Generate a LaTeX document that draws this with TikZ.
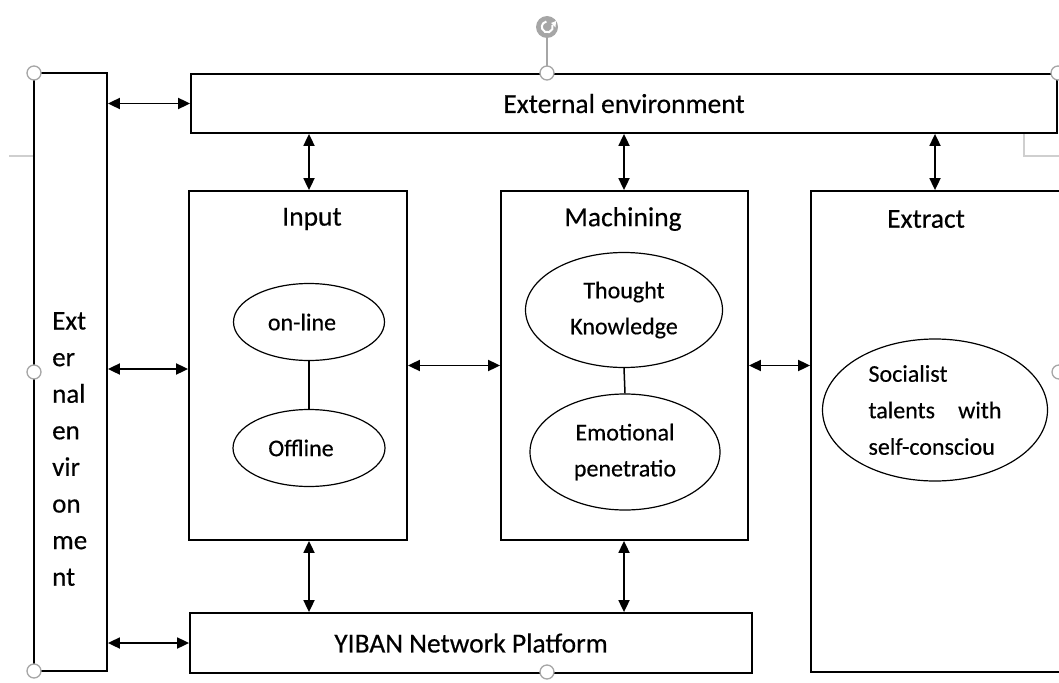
\documentclass[tikz,border=0pt]{standalone}
\usepackage{fontspec}
\setmainfont{Carlito}[FakeBold=0.4]
\usetikzlibrary{arrows.meta,shapes.geometric}
\definecolor{handlegray}{HTML}{A6A6A6}
\definecolor{guidegray}{HTML}{CFCFCF}
\tikzset{
  box/.style={draw,line width=1.8pt,rectangle,inner sep=0pt},
  bubble/.style={draw,line width=1.2pt,ellipse,inner sep=0pt,align=center,
    font=\fontsize{24}{36}\selectfont},
  title/.style={font=\fontsize{27.5}{30}\selectfont,inner sep=0pt},
  link/.style={line width=1.8pt,{Triangle[length=12pt,width=11pt]}-{Triangle[length=12pt,width=11pt]}},
  handle/.style={draw=handlegray,fill=white,line width=1.3pt}
}
\begin{document}
\begin{tikzpicture}[x=1pt,y=-1pt]
  \useasboundingbox (0,0) rectangle (1059,682);
  % faint guide lines of the page
  \draw[guidegray,line width=1.2pt] (9,156)--(33,156);
  \draw[guidegray,line width=1.2pt] (1024,133)--(1024,156)--(1059,156);

  % frames
  \node[box,minimum width=73pt,minimum height=598pt] (lbox) at (70.5,372) {};
  \node[box,minimum width=866pt,minimum height=59pt,title] (topbox) at (624,103.5) {External environment};
  \node[box,minimum width=218pt,minimum height=349pt] (input) at (298,365.5) {};
  \node[box,minimum width=247pt,minimum height=349pt] (mach) at (624.5,365.5) {};
  \node[box,minimum width=249pt,minimum height=481pt] (extract) at (935.5,431.5) {};
  \node[box,minimum width=562pt,minimum height=60pt,title] (yiban) at (471,643) {YIBAN Network Platform};

  \node[anchor=north west,inner sep=0pt,align=left,font=\fontsize{27}{36.6}\selectfont] (lboxtext) at (52,312)
    {Ext\\er\\nal\\en\\vir\\on\\me\\nt};
  \node[title] (inputtitle) at (312,219) {Input};
  \node[title] (machtitle) at (623,219) {Machining};
  \node[title] (extracttitle) at (926,219) {Extract};

  % ellipses
  \node[bubble,minimum width=151pt,minimum height=77pt] (online) at (309,322) {on-line\hspace*{14pt}};
  \node[bubble,minimum width=152pt,minimum height=77pt] (offline) at (309,448) {Offline\hspace*{16pt}};
  \node[bubble,minimum width=197pt,minimum height=115pt] (thought) at (624,310) {Thought\\Knowledge};
  \node[bubble,minimum width=190pt,minimum height=116pt] (emotional) at (625,452) {Emotional\\penetratio};
  \node[bubble,minimum width=225pt,minimum height=142pt] (social) at (935,410)
    {\parbox{133pt}{\fontsize{24}{36.5}\selectfont Socialist\\talents\hfill with\\self-consciou}};
  \draw[line width=1.5pt] (online.south) -- (offline.north);
  \draw[line width=1.5pt] (thought.south) -- (emotional.north);

  % arrows
  \draw[link] (lbox.east |- topbox.west) -- (topbox.west);
  \draw[link] ([yshift=-3.5pt]lbox.east |- input.west) -- ([yshift=-3.5pt]input.west);
  \draw[link] (lbox.east |- yiban.west) -- (yiban.west);
  \draw[link] (topbox.south -| online) -- (input.north -| online);
  \draw[link] (topbox.south -| thought) -- (mach.north -| thought);
  \draw[link] (topbox.south -| social) -- (extract.north -| social);
  \draw[link] (input.east) -- (mach.west);
  \draw[link] (mach.east) -- (extract.west |- mach.east);
  \draw[link] (input.south -| online) -- (yiban.north -| online);
  \draw[link] (mach.south -| thought) -- (yiban.north -| thought);

  % selection handles
  \draw[handlegray,line width=1.3pt] (547,38) -- (547,66);
  \node[circle,fill=handlegray,minimum size=22pt,inner sep=0pt] (rotate) at (547,27) {};
  \draw[white,line width=2pt] (rotate.center) ++(5.5,-2) arc[start angle=-20,end angle=260,radius=5.5];
  \fill[white] (551,23) -- (555.5,27.5) -- (556,21) -- cycle;
  \foreach \hx/\hy in {34/73,547/73,1058/73,34/372,1059/372,34/671,547/672}
    \draw[handle] (\hx,\hy) circle (7);
\end{tikzpicture}
\end{document}
